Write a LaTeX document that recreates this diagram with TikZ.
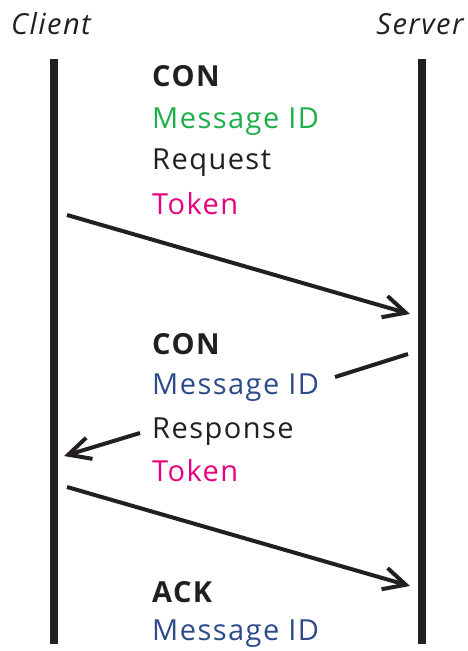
\documentclass[tikz,border=0pt]{standalone}
\usepackage{fontspec}
\setmainfont{Open Sans}[LetterSpace=5]
\usetikzlibrary{arrows.meta}
\definecolor{idgreen}{HTML}{1DAF4B}
\definecolor{idblue}{HTML}{2D4A8A}
\definecolor{tokpink}{HTML}{E6007E}
\definecolor{ink}{HTML}{231F20}

\begin{document}
\begin{tikzpicture}[x=1pt, y=-1pt,
    lbl/.style={anchor=west, inner sep=0pt, font=\fontsize{29}{30}\selectfont, text=ink},
    who/.style={inner sep=0pt, font=\fontsize{29}{30}\selectfont\itshape, text=ink},
    life/.style={line width=8pt, ink},
    msg/.style={line width=4pt, ink, -{Straight Barb[length=22pt, width=22pt, line width=4pt]}},
    msgline/.style={line width=4pt, ink}]
    \useasboundingbox (0,0) rectangle (467,651);
    % participants
    \node[who] (client) at (51,24) {Client};
    \node[who] (server) at (420,24) {Server};
    \coordinate (c0) at (54,59);
    \coordinate (c1) at (54,644);
    \coordinate (s0) at (422,59);
    \coordinate (s1) at (422,644);
    \draw[life] (c0) -- (c1);
    \draw[life] (s0) -- (s1);
    % request
    \node[lbl, font=\fontsize{29}{30}\selectfont\bfseries] (con1) at (152,76) {CON};
    \node[lbl, text=idgreen] (mid1) at (152,122) {Message ID};
    \node[lbl] (req) at (152,163) {Request};
    \node[lbl, text=tokpink] (tok1) at (152,204) {Token};
    \coordinate (a0) at (67,215);
    \coordinate (a1) at (410,314);
    \draw[msg] (a0) -- (a1);
    % response
    \node[lbl, font=\fontsize{29}{30}\selectfont\bfseries] (con2) at (152,344) {CON};
    \node[lbl, text=idblue] (mid2) at (152,388) {Message ID};
    \node[lbl] (resp) at (152,432) {Response};
    \node[lbl, text=tokpink] (tok2) at (152,471) {Token};
    \coordinate (b0) at (408,354);
    \coordinate (b1) at (335,377);
    \coordinate (b2) at (140,433);
    \coordinate (b3) at (64,456);
    \draw[msgline] (b0) -- (b1);
    \draw[msg] (b2) -- (b3);
    % acknowledgement
    \coordinate (d0) at (67,487);
    \coordinate (d1) at (410,586);
    \draw[msg] (d0) -- (d1);
    \node[lbl, font=\fontsize{29}{30}\selectfont\bfseries] (ack) at (152,592) {ACK};
    \node[lbl, text=idblue] (mid3) at (152,634) {Message ID};
\end{tikzpicture}
\end{document}
